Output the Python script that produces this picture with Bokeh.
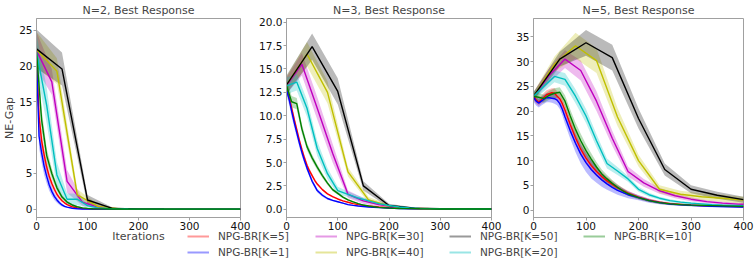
from bokeh.plotting import figure
from bokeh.layouts import row, column
from bokeh.models import FixedTicker, NumeralTickFormatter, Range1d, Legend, LegendItem
from bokeh.embed import file_html
from bokeh.resources import INLINE

# ---------------- data ----------------
LABELS = ["NPG-BR[K=5]", "NPG-BR[K=1]", "NPG-BR[K=30]", "NPG-BR[K=40]",
          "NPG-BR[K=50]", "NPG-BR[K=20]", "NPG-BR[K=10]"]
COLORS = ["#ff0000", "#0000ff", "#bf00bf", "#bfbf00", "#000000", "#00bfbf", "#008000"]

X50 = [0, 50, 100, 150, 200, 250, 300, 350, 400]
X40 = [0, 40, 80, 120, 160, 200, 240, 280, 320, 360, 400]
X30 = [0, 30, 60, 90, 120, 150, 180, 210, 240, 270, 300, 330, 360, 390, 420]
X20 = [0, 20, 40, 60, 80, 100, 120, 140, 160, 180, 200, 220, 240, 260, 280, 300, 320, 340, 360, 380, 400]
X10 = [0, 10, 20, 30, 40, 50, 60, 70, 80, 90, 100, 110, 120, 130, 140, 150, 160, 170, 180, 190, 200,
       220, 240, 260, 280, 300, 320, 340, 360, 380, 400]
XD = [0, 5, 10, 15, 20, 25, 30, 35, 40, 45, 50, 55, 60,
      70, 80, 90, 100, 110, 120, 130, 140, 150, 160,
      180, 200, 220, 240, 260, 280, 300, 320, 340, 360, 380, 400]

# N=2
n2_k50 = [22.4, 19.6, 1.3, 0.1, 0.05, 0.03, 0.02, 0.02, 0.02]
n2_k50_sd = [2.7, 2.3, 0.7, 0.1, 0.05, 0.03, 0.02, 0.02, 0.02]
n2_k40 = [22.3, 19.3, 2.0, 0.4, 0.08, 0.04, 0.03, 0.02, 0.02, 0.02, 0.02]
n2_k40_sd = [2.5, 1.8, 0.8, 0.3, 0.05, 0.03, 0.02, 0.02, 0.02, 0.02, 0.02]
n2_k30 = [22.2, 17.8, 3.9, 1.0, 0.3, 0.1, 0.05, 0.03, 0.02, 0.02, 0.02, 0.02, 0.02, 0.02, 0.02]
n2_k30_sd = [2.6, 1.8, 1.6, 0.5, 0.2, 0.08, 0.04, 0.02, 0.02, 0.02, 0.02, 0.02, 0.02, 0.02, 0.02]
n2_k20 = [22.0, 14.5, 4.8, 1.4, 1.4, 0.5, 0.2, 0.1, 0.05, 0.03, 0.02, 0.02, 0.02, 0.02, 0.02,
          0.02, 0.02, 0.02, 0.02, 0.02, 0.02]
n2_k20_sd = [2.5, 2.5, 1.8, 0.8, 0.8, 0.3, 0.1, 0.05, 0.03, 0.02, 0.02, 0.02, 0.02, 0.02, 0.02,
             0.02, 0.02, 0.02, 0.02, 0.02, 0.02]
n2_k10 = [22.0, 12.5, 7.5, 5.0, 3.0, 1.7, 1.0, 0.6, 0.35, 0.2, 0.12, 0.08, 0.06, 0.05, 0.04,
          0.03, 0.03, 0.02, 0.02, 0.02, 0.02,
          0.02, 0.02, 0.02, 0.02, 0.02, 0.02, 0.02, 0.02, 0.02, 0.02]
n2_k10_sd = [2.0, 1.5, 1.0, 0.7, 0.5, 0.3, 0.2, 0.15, 0.1, 0.08, 0.05, 0.03, 0.03, 0.02, 0.02,
             0.02, 0.02, 0.02, 0.02, 0.02, 0.02,
             0.02, 0.02, 0.02, 0.02, 0.02, 0.02, 0.02, 0.02, 0.02, 0.02]
n2_k5 = [21.5, 13.0, 9.6, 7.6, 5.9, 4.6, 3.6, 2.8, 2.1, 1.6, 1.2, 0.9, 0.65,
         0.35, 0.18, 0.1, 0.05, 0.03, 0.02, 0.02, 0.02, 0.02, 0.02,
         0.02, 0.02, 0.02, 0.02, 0.02, 0.02, 0.02, 0.02, 0.02, 0.02, 0.02, 0.02]
n2_k5_sd = [1.5, 1.4, 1.1, 0.9, 0.7, 0.6, 0.5, 0.4, 0.3, 0.25, 0.2, 0.15, 0.1,
            0.06, 0.04, 0.03, 0.02, 0.02, 0.02, 0.02, 0.02, 0.02, 0.02,
            0.02, 0.02, 0.02, 0.02, 0.02, 0.02, 0.02, 0.02, 0.02, 0.02, 0.02, 0.02]
n2_k1 = [21.0, 10.2, 7.9, 6.0, 4.6, 3.4, 2.5, 1.8, 1.3, 0.9, 0.6, 0.4, 0.3,
         0.15, 0.08, 0.04, 0.03, 0.02, 0.02, 0.02, 0.02, 0.02, 0.02,
         0.02, 0.02, 0.02, 0.02, 0.02, 0.02, 0.02, 0.02, 0.02, 0.02, 0.02, 0.02]
n2_k1_sd = [1.5, 1.6, 1.4, 1.2, 1.0, 0.8, 0.6, 0.5, 0.4, 0.3, 0.2, 0.15, 0.1,
            0.06, 0.04, 0.03, 0.02, 0.02, 0.02, 0.02, 0.02, 0.02, 0.02,
            0.02, 0.02, 0.02, 0.02, 0.02, 0.02, 0.02, 0.02, 0.02, 0.02, 0.02, 0.02]

# N=3
n3_k50 = [13.3, 17.4, 12.6, 2.5, 0.4, 0.12, 0.06, 0.04, 0.03]
n3_k50_sd = [1.0, 1.4, 1.4, 0.5, 0.2, 0.08, 0.04, 0.03, 0.02]
n3_k40 = [13.3, 16.6, 12.5, 4.0, 1.0, 0.35, 0.12, 0.06, 0.04, 0.03, 0.03]
n3_k40_sd = [0.9, 1.3, 1.2, 0.5, 0.3, 0.15, 0.06, 0.03, 0.02, 0.02, 0.02]
n3_k30 = [13.2, 15.5, 10.8, 6.0, 1.6, 0.9, 0.5, 0.25, 0.12, 0.07, 0.05, 0.04, 0.03, 0.03, 0.03]
n3_k30_sd = [0.9, 1.2, 1.2, 1.0, 0.4, 0.3, 0.2, 0.1, 0.05, 0.03, 0.02, 0.02, 0.02, 0.02, 0.02]
n3_k20 = [13.2, 13.6, 10.8, 6.5, 3.8, 2.0, 1.6, 1.2, 0.9, 0.6, 0.4, 0.25, 0.15, 0.1, 0.07,
          0.05, 0.04, 0.03, 0.03, 0.03, 0.03]
n3_k20_sd = [0.9, 0.9, 0.9, 0.8, 0.6, 0.4, 0.3, 0.25, 0.2, 0.15, 0.1, 0.07, 0.05, 0.04, 0.03,
             0.02, 0.02, 0.02, 0.02, 0.02, 0.02]
n3_k10 = [13.2, 11.5, 11.3, 8.6, 6.7, 5.5, 4.5, 3.6, 2.8, 2.1, 1.7, 1.3, 1.0, 0.8, 0.6,
          0.45, 0.35, 0.27, 0.2, 0.16, 0.12,
          0.09, 0.07, 0.05, 0.04, 0.03, 0.03, 0.03, 0.03, 0.03, 0.03]
n3_k10_sd = [0.8, 0.6, 0.6, 0.5, 0.4, 0.35, 0.3, 0.25, 0.2, 0.18, 0.15, 0.12, 0.1, 0.08, 0.06,
             0.05, 0.04, 0.03, 0.03, 0.02, 0.02,
             0.02, 0.02, 0.02, 0.02, 0.02, 0.02, 0.02, 0.02, 0.02, 0.02]
n3_k5 = [13.0, 12.0, 10.8, 9.6, 8.5, 7.4, 6.4, 5.5, 4.7, 4.1, 3.6, 3.1, 2.7,
         2.1, 1.65, 1.35, 1.1, 0.9, 0.75, 0.6, 0.5, 0.42, 0.35,
         0.25, 0.18, 0.12, 0.08, 0.06, 0.05, 0.04, 0.03, 0.03, 0.03, 0.03, 0.03]
n3_k5_sd = [0.5, 0.5, 0.5, 0.45, 0.4, 0.35, 0.3, 0.3, 0.25, 0.22, 0.2, 0.18, 0.15,
            0.12, 0.1, 0.08, 0.07, 0.06, 0.05, 0.04, 0.04, 0.03, 0.03,
            0.02, 0.02, 0.02, 0.02, 0.02, 0.02, 0.02, 0.02, 0.02, 0.02, 0.02, 0.02]
n3_k1 = [12.8, 11.8, 10.5, 9.3, 8.2, 7.1, 6.1, 5.2, 4.4, 3.7, 3.0, 2.5, 2.0,
         1.5, 1.15, 0.95, 0.8, 0.65, 0.5, 0.42, 0.35, 0.3, 0.25,
         0.18, 0.13, 0.09, 0.06, 0.05, 0.04, 0.03, 0.03, 0.03, 0.03, 0.03, 0.03]
n3_k1_sd = [0.6, 0.6, 0.6, 0.55, 0.5, 0.45, 0.4, 0.35, 0.3, 0.28, 0.25, 0.22, 0.2,
            0.15, 0.12, 0.1, 0.08, 0.07, 0.06, 0.05, 0.05, 0.04, 0.04,
            0.03, 0.03, 0.03, 0.03, 0.03, 0.03, 0.03, 0.03, 0.03, 0.03, 0.03, 0.03]

# N=5
n5_k50 = [23.0, 30.5, 33.8, 30.8, 18.5, 8.2, 4.2, 3.0, 2.1]
n5_k50_sd = [0.8, 1.5, 2.6, 2.6, 2.0, 1.2, 0.8, 0.7, 0.6]
n5_k40 = [23.0, 29.5, 33.2, 30.2, 18.8, 10.0, 4.2, 3.2, 2.7, 2.4, 2.0]
n5_k40_sd = [0.8, 1.5, 2.6, 2.5, 1.8, 1.2, 0.8, 0.7, 0.7, 0.7, 0.7]
n5_k30 = [23.0, 27.2, 30.5, 28.2, 22.0, 14.5, 7.8, 5.5, 3.9, 2.9, 2.2, 1.7, 1.4, 1.2, 1.1]
n5_k30_sd = [0.8, 1.5, 1.8, 2.0, 2.0, 1.5, 1.0, 0.8, 0.6, 0.5, 0.4, 0.3, 0.3, 0.3, 0.3]
n5_k20 = [23.0, 25.0, 27.0, 26.4, 23.0, 19.0, 14.0, 9.4, 7.9, 6.3, 4.2, 3.1, 2.4, 1.9, 1.6,
          1.4, 1.25, 1.1, 1.0, 0.95, 0.9]
n5_k20_sd = [0.8, 1.0, 1.2, 1.3, 1.4, 1.4, 1.3, 1.0, 0.8, 0.6, 0.5, 0.4, 0.3, 0.3, 0.25,
             0.25, 0.2, 0.2, 0.2, 0.2, 0.2]
n5_k10 = [23.0, 22.8, 22.5, 23.2, 23.6, 23.8, 22.0, 19.0, 16.3, 14.0, 12.0, 10.3, 8.7, 7.3, 6.3,
          5.4, 4.6, 3.9, 3.3, 2.9, 2.5,
          1.9, 1.5, 1.25, 1.1, 1.0, 0.95, 0.9, 0.85, 0.8, 0.75]
n5_k10_sd = [0.8, 0.8, 0.8, 0.9, 1.0, 1.0, 1.2, 1.3, 1.4, 1.4, 1.3, 1.2, 1.0, 0.9, 0.8,
             0.7, 0.6, 0.5, 0.4, 0.35, 0.3,
             0.25, 0.25, 0.25, 0.25, 0.25, 0.25, 0.25, 0.25, 0.25, 0.25]
n5_k5 = [23.0, 22.3, 21.8, 22.3, 22.8, 23.3, 23.5, 23.7, 23.6, 23.0, 22.5, 21.5, 20.2,
         17.3, 14.6, 12.3, 10.5, 9.0, 7.8, 6.8, 5.9, 5.2, 4.5,
         3.4, 2.6, 2.0, 1.6, 1.3, 1.15, 1.0, 0.9, 0.85, 0.8, 0.75, 0.7]
n5_k5_sd = [0.8, 0.8, 0.8, 0.8, 0.9, 0.9, 0.9, 0.9, 1.0, 1.0, 1.0, 1.1, 1.1,
            1.2, 1.3, 1.3, 1.2, 1.1, 1.0, 0.9, 0.8, 0.7, 0.6,
            0.5, 0.4, 0.35, 0.3, 0.25, 0.2, 0.2, 0.2, 0.2, 0.2, 0.2, 0.2]
n5_k1 = [22.8, 22.0, 21.6, 22.0, 22.4, 22.7, 22.7, 22.6, 22.5, 22.2, 21.5, 20.3, 18.8,
         16.0, 13.5, 11.3, 9.6, 8.2, 7.1, 6.1, 5.3, 4.6, 4.0,
         3.1, 2.5, 1.9, 1.5, 1.2, 1.05, 0.95, 0.85, 0.75, 0.7, 0.65, 0.6]
n5_k1_sd = [0.9, 0.9, 0.9, 0.9, 0.9, 0.9, 0.9, 0.9, 1.0, 1.0, 1.1, 1.2, 1.4,
            1.6, 1.8, 1.9, 1.9, 1.8, 1.6, 1.4, 1.2, 1.0, 0.9,
            0.7, 0.5, 0.4, 0.3, 0.25, 0.2, 0.2, 0.2, 0.2, 0.2, 0.2, 0.2]

XS = [XD, XD, X30, X40, X50, X20, X10]
N2 = [(n2_k5, n2_k5_sd), (n2_k1, n2_k1_sd), (n2_k30, n2_k30_sd), (n2_k40, n2_k40_sd),
      (n2_k50, n2_k50_sd), (n2_k20, n2_k20_sd), (n2_k10, n2_k10_sd)]
N3 = [(n3_k5, n3_k5_sd), (n3_k1, n3_k1_sd), (n3_k30, n3_k30_sd), (n3_k40, n3_k40_sd),
      (n3_k50, n3_k50_sd), (n3_k20, n3_k20_sd), (n3_k10, n3_k10_sd)]
N5 = [(n5_k5, n5_k5_sd), (n5_k1, n5_k1_sd), (n5_k30, n5_k30_sd), (n5_k40, n5_k40_sd),
      (n5_k50, n5_k50_sd), (n5_k20, n5_k20_sd), (n5_k10, n5_k10_sd)]

X_TICKS = [0, 100, 200, 300, 400]
Y_TICKS_N2 = [0, 5, 10, 15, 20, 25]
Y_TICKS_N3 = [0, 2.5, 5, 7.5, 10, 12.5, 15, 17.5, 20]
Y_TICKS_N5 = [0, 5, 10, 15, 20, 25, 30, 35]

FONT = "DejaVu Sans"
SPINE = "#a0a0a0"
H = 248          # panel figure height
BOTTOM = 31      # bottom border (tick labels + x axis label)


def panel(title, data, yr, yticks, width, lb, rb, ylabel=None, xlabel=None, fmt=None):
    p = figure(width=width, height=H, output_backend="svg", toolbar_location=None,
               x_range=Range1d(0, 400), y_range=Range1d(*yr),
               min_border_left=lb, min_border_right=rb, min_border_top=18,
               min_border_bottom=BOTTOM)
    p.title.text = title
    p.title.align = "center"
    p.title.vertical_align = "top"
    p.title.text_font = FONT
    p.title.text_font_size = "11px"
    p.title.text_font_style = "normal"
    p.title.standoff = 0
    p.grid.visible = False
    p.outline_line_color = SPINE
    for ax in (p.xaxis[0], p.yaxis[0]):
        ax.axis_line_color = SPINE
        ax.major_tick_line_color = SPINE
        ax.major_tick_out = 3
        ax.major_tick_in = 0
        ax.minor_tick_line_color = None
        ax.major_label_text_font = FONT
        ax.major_label_text_font_size = "10.5px"
        ax.major_label_text_color = "#111111"
        ax.major_label_standoff = 1
    p.xaxis.ticker = FixedTicker(ticks=X_TICKS)
    p.yaxis.ticker = FixedTicker(ticks=yticks)
    if fmt:
        p.yaxis.formatter = NumeralTickFormatter(format=fmt)
    if ylabel:
        p.yaxis.axis_label = ylabel
        p.yaxis.axis_label_text_font = FONT
        p.yaxis.axis_label_text_font_size = "11px"
        p.yaxis.axis_label_text_font_style = "normal"
        p.yaxis.axis_label_standoff = 0
    if xlabel:
        p.xaxis.axis_label = xlabel
        p.xaxis.axis_label_text_font = FONT
        p.xaxis.axis_label_text_font_size = "11px"
        p.xaxis.axis_label_text_font_style = "normal"
        p.xaxis.axis_label_standoff = -3
    for xs, (ys, sd), c in zip(XS, data, COLORS):
        lo = [y - s for y, s in zip(ys, sd)]
        hi = [y + s for y, s in zip(ys, sd)]
        p.varea(x=xs, y1=lo, y2=hi, fill_color=c, fill_alpha=0.27)
    for xs, (ys, sd), c in zip(XS, data, COLORS):
        p.line(x=xs, y=ys, line_color=c, line_width=1.4)
    return p


p1 = panel("N=2, Best Response", N2, (-1.15, 26.65), Y_TICKS_N2, 256, 31, 16,
           ylabel="NE-Gap", xlabel="Iterations")
p2 = panel("N=3, Best Response", N3, (-0.88, 20.4), Y_TICKS_N3, 256, 26, 21, fmt="0.0")
p3 = panel("N=5, Best Response", N5, (-1.5, 38.7), Y_TICKS_N5, 244, 21, 13)

# legend strip, overlapping the empty bottom part of the panel row
LH = 28
lf = figure(width=756, height=LH, output_backend="svg", toolbar_location=None,
            x_range=Range1d(0, 1), y_range=Range1d(0, 1),
            x_axis_type=None, y_axis_type=None, min_border=0)
lf.outline_line_color = None
lf.grid.visible = False
lf.background_fill_alpha = 0
lf.border_fill_alpha = 0
lf.margin = (258 - H - LH, 0, 0, 0)
LEG_POS = [(187, 16), (187, 0), (315, 16), (315, 0), (449, 16), (449, 0), (583, 16)]
for lab, c, pos in zip(LABELS, COLORS, LEG_POS):
    r = lf.line(x=[float("nan")], y=[float("nan")], line_color=c, line_width=2, line_alpha=0.4)
    lg = Legend(items=[LegendItem(label=lab, renderers=[r])], location=pos,
                border_line_color=None, background_fill_alpha=0, padding=0, margin=0,
                glyph_width=22, glyph_height=10, label_height=10, label_standoff=9,
                label_text_font=FONT, label_text_font_size="10.5px", spacing=0)
    lf.add_layout(lg)

layout = column(row(p1, p2, p3), lf)
open("out.html", "w").write(file_html(layout, INLINE))
